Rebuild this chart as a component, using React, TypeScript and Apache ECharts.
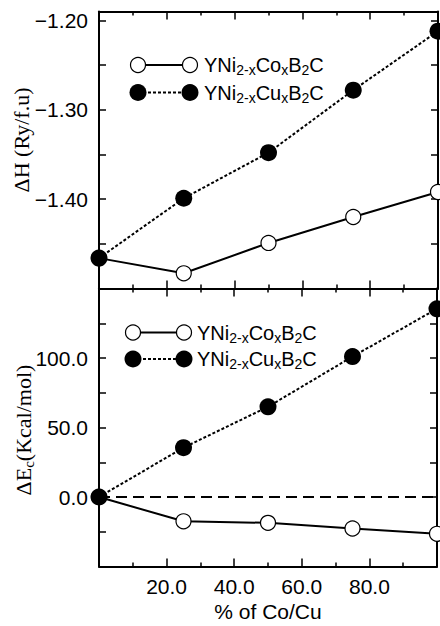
import React, { useEffect, useRef } from "react";
import * as echarts from "echarts";

// Data
const composition = [0, 25, 50, 75, 100]; // % of Co/Cu
const dHCo = [-1.466, -1.483, -1.449, -1.42, -1.392];
const dHCu = [-1.466, -1.399, -1.348, -1.278, -1.212];
const dECo = [0, -17.5, -18.6, -22.7, -26.5];
const dECu = [0, 35.5, 64.9, 101, 135.4];
const xTickLabels = ["20.0", "40.0", "60.0", "80.0"];
const dHTickLabels = ["-1.20", "-1.30", "-1.40"];
const dETickLabels = ["0.0", "50.0", "100.0"];

const SANS = "'Liberation Sans', Arial, Helvetica, sans-serif";
const SERIF = "'Liberation Serif', 'Times New Roman', serif";

const pairs = (xs: number[], ys: number[]) => xs.map((x, i) => [x, ys[i]]);

const GL = 99;
const GR = 2;
const TOP_T = 11.5;
const TOP_H = 277;
const BOT_T = TOP_T + TOP_H;
const BOT_H = 278;

function xAxisDef(grid: number, position: "top" | "bottom", labels: boolean, name?: string) {
  return {
    type: "value",
    gridIndex: grid,
    position,
    min: 0,
    max: 100,
    interval: 20,
    name: name || "",
    nameLocation: "middle",
    nameGap: 34,
    nameTextStyle: { fontFamily: SANS, fontSize: 21, color: "#000" },
    axisLine: { show: true, onZero: false, lineStyle: { color: "#000", width: 2 } },
    axisTick: { show: true, inside: true, length: 8, lineStyle: { color: "#000", width: 1.5 } },
    minorTick: { show: true, splitNumber: 2, length: 4, lineStyle: { color: "#000", width: 1.5 } },
    axisLabel: {
      show: labels,
      margin: 9,
      fontFamily: SANS,
      fontSize: 21,
      color: "#000",
      formatter: (v: number) => {
        const s = v.toFixed(1);
        return xTickLabels.includes(s) ? s : "";
      },
    },
    splitLine: { show: false },
  };
}

function yAxisDef(
  grid: number,
  position: "left" | "right",
  labels: boolean,
  min: number,
  max: number,
  interval: number,
  allowed: string[],
  digits: number
) {
  return {
    type: "value",
    gridIndex: grid,
    position,
    min,
    max,
    interval,
    axisLine: { show: true, onZero: false, lineStyle: { color: "#000", width: 2 } },
    axisTick: { show: true, inside: true, length: 7, lineStyle: { color: "#000", width: 1.5 } },
    axisLabel: {
      show: labels,
      margin: 11,
      fontFamily: SANS,
      fontSize: 21,
      color: "#000",
      formatter: (v: number) => {
        const s = (Math.round(v * 1000) / 1000).toFixed(digits);
        return allowed.includes(s) ? s.replace("-", "\u2212") : "";
      },
    },
    splitLine: { show: false },
  };
}

const legendRich = {
  n: { fontFamily: SANS, fontSize: 20, fill: "#000", lineHeight: 24 },
  s: { fontFamily: SANS, fontSize: 14, fill: "#000", lineHeight: 12, verticalAlign: "bottom" },
};

const coLabel = "{n|YNi}{s|2-x}{n|Co}{s|x}{n|B}{s|2}{n|C}";
const cuLabel = "{n|YNi}{s|2-x}{n|Cu}{s|x}{n|B}{s|2}{n|C}";

const DOTTED = [3, 2];

function legendBlock(x1: number, x2: number, tx: number, y1: number, y2: number) {
  return [
    {
      type: "line",
      shape: { x1: x1, y1: y1, x2: x2, y2: y1 },
      style: { stroke: "#000", lineWidth: 2 },
    },
    { type: "circle", shape: { cx: x1, cy: y1, r: 7.5 }, style: { fill: "#fff", stroke: "#000", lineWidth: 1.2 } },
    { type: "circle", shape: { cx: x2, cy: y1, r: 7.5 }, style: { fill: "#fff", stroke: "#000", lineWidth: 1.2 } },
    {
      type: "text",
      x: tx,
      y: y1,
      style: { text: coLabel, rich: legendRich, align: "left", verticalAlign: "middle" },
    },
    {
      type: "line",
      shape: { x1: x1, y1: y2, x2: x2, y2: y2 },
      style: { stroke: "#000", lineWidth: 2, lineDash: DOTTED },
    },
    { type: "circle", shape: { cx: x1, cy: y2, r: 8.5 }, style: { fill: "#000" } },
    { type: "circle", shape: { cx: x2, cy: y2, r: 8.5 }, style: { fill: "#000" } },
    {
      type: "text",
      x: tx,
      y: y2,
      style: { text: cuLabel, rich: legendRich, align: "left", verticalAlign: "middle" },
    },
  ];
}

const coStyle = {
  type: "line",
  symbol: "circle",
  symbolSize: 15,
  itemStyle: { color: "#fff", borderColor: "#000", borderWidth: 1.2 },
  lineStyle: { color: "#000", width: 2, type: "solid" },
  z: 3,
};
const cuStyle = {
  type: "line",
  symbol: "circle",
  symbolSize: 17,
  itemStyle: { color: "#000", borderColor: "#000", borderWidth: 0 },
  lineStyle: { color: "#000", width: 2, type: DOTTED },
  z: 4,
};

export default function App() {
  const ref = useRef<HTMLDivElement>(null);
  useEffect(() => {
    if (!ref.current) return;
    const chart = echarts.init(ref.current, undefined, { renderer: "svg" });
    chart.setOption({
      animation: false,
      backgroundColor: "#fff",
      grid: [
        { left: GL, right: GR, top: TOP_T, height: TOP_H },
        { left: GL, right: GR, top: BOT_T, height: BOT_H },
      ],
      xAxis: [
        xAxisDef(0, "bottom", false),
        xAxisDef(0, "top", false),
        xAxisDef(1, "bottom", true, "% of Co/Cu"),
        xAxisDef(1, "top", false),
      ],
      yAxis: [
        yAxisDef(0, "left", true, -1.5, -1.19, 0.05, dHTickLabels, 2),
        yAxisDef(0, "right", false, -1.5, -1.19, 0.05, dHTickLabels, 2),
        yAxisDef(1, "left", true, -50, 150, 25, dETickLabels, 1),
        yAxisDef(1, "right", false, -50, 150, 25, dETickLabels, 1),
      ],
      series: [
        { ...coStyle, name: "Co dH", xAxisIndex: 0, yAxisIndex: 0, data: pairs(composition, dHCo) },
        { ...cuStyle, name: "Cu dH", xAxisIndex: 0, yAxisIndex: 0, data: pairs(composition, dHCu) },
        {
          ...coStyle,
          name: "Co dE",
          xAxisIndex: 2,
          yAxisIndex: 2,
          data: pairs(composition, dECo),
          markLine: {
            silent: true,
            symbol: "none",
            label: { show: false },
            lineStyle: { color: "#000", width: 2, type: [11, 6] },
            data: [{ yAxis: 0 }],
            z: 1,
          },
        },
        { ...cuStyle, name: "Cu dE", xAxisIndex: 2, yAxisIndex: 2, data: pairs(composition, dECu) },
      ],
      graphic: [
        ...legendBlock(138, 190, 204, 65, 92.5),
        ...legendBlock(133, 184, 197, 332.5, 359),
        {
          type: "text",
          x: 21,
          y: 140,
          rotation: Math.PI / 2,
          style: {
            text: "{n|ΔH (Ry/f.u)}",
            rich: { n: { fontFamily: SERIF, fontSize: 22, fill: "#000", lineHeight: 26 } },
            align: "center",
            verticalAlign: "middle",
          },
        },
        {
          type: "text",
          x: 23,
          y: 430,
          rotation: Math.PI / 2,
          style: {
            text: "{n|ΔE}{s|c}{n|(Kcal/mol)}",
            rich: {
              n: { fontFamily: SERIF, fontSize: 22, fill: "#000", lineHeight: 26 },
              s: { fontFamily: SERIF, fontSize: 15, fill: "#000", lineHeight: 12, verticalAlign: "bottom" },
            },
            align: "center",
            verticalAlign: "middle",
          },
        },
      ],
    });
    return () => chart.dispose();
  }, []);
  return (
    <div
      ref={ref}
      style={{ position: "absolute", left: 0, top: 0, width: 440, height: 626 }}
    />
  );
}
